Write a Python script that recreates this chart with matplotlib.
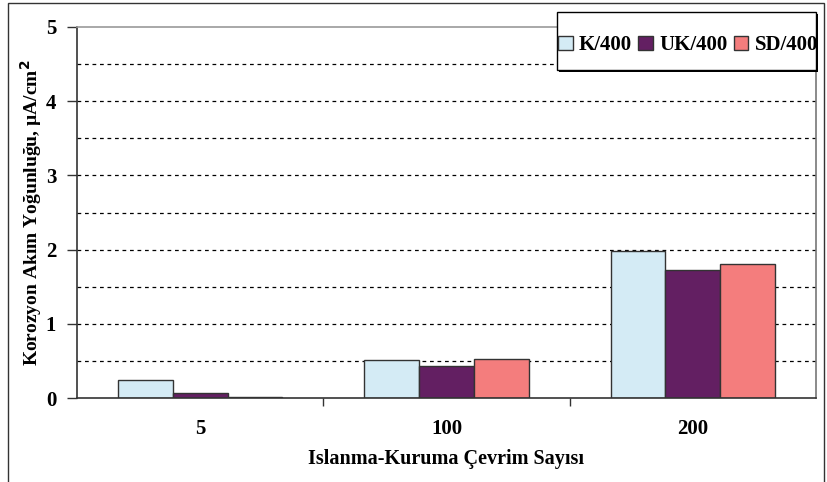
import matplotlib.pyplot as plt
import matplotlib.patches as mpatches
import numpy as np

# data
cycles = ['5', '100', '200']
series = ['K/400', 'UK/400', 'SD/400']
k400 = [0.24, 0.51, 1.98]
uk400 = [0.07, 0.43, 1.72]
sd400 = [0.02, 0.53, 1.81]
colors = ['#D4EBF5', '#631F62', '#F47D7D']

plt.rcParams['font.family'] = ['Liberation Serif', 'DejaVu Serif']
plt.rcParams['font.weight'] = 'bold'

fig = plt.figure(figsize=(8.27, 4.82), dpi=100)
ax = fig.add_axes([77 / 827, 1 - 398 / 482, (816 - 77) / 827, (398 - 27) / 482])

x = np.arange(len(cycles))
w = 0.222
for i, (vals, c, name) in enumerate(zip([k400, uk400, sd400], colors, series)):
    ax.bar(x + (i - 1) * w, vals, w, color=c, edgecolor='#333333', linewidth=1.0,
           label=name, zorder=3)

# dashed grid every 0.5
for yv in np.arange(0.5, 5, 0.5):
    ax.axhline(yv, color='black', linestyle=(0, (3, 3)), linewidth=0.9, zorder=1)

ax.set_xlim(-0.5, 2.5)
ax.set_ylim(0, 5)
ax.set_yticks(range(6))
ax.set_xticks(x)
ax.set_xticklabels(cycles, fontsize=15, fontweight='bold')
ax.set_xticks([0.5, 1.5], minor=True)
ax.tick_params(axis='x', which='major', length=0, pad=15)
ax.tick_params(axis='x', which='minor', length=6, width=1, color='#333333')
ax.tick_params(axis='y', length=7, width=1, color='#333333', labelsize=15, pad=8)
for lab in ax.get_yticklabels():
    lab.set_fontweight('bold')

ax.spines['left'].set_color('#333333')
ax.spines['bottom'].set_color('#333333')
ax.spines['top'].set_color('#999999')
ax.spines['right'].set_color('#777777')
for s in ax.spines.values():
    s.set_linewidth(1.2)
    s.set_zorder(4)

ax.set_xlabel('Islanma-Kuruma Çevrim Sayısı', fontsize=14.5, fontweight='bold', labelpad=7)
ax.set_ylabel('Korozyon Akım Yoğunluğu, µA/cm$^\\mathbf{2}$', fontsize=14,
              fontweight='bold', labelpad=1)

# legend box with shadow edge
lx0, lx1 = 557 / 827, 816 / 827
ly0, ly1 = 1 - 70 / 482, 1 - 12 / 482
fig.patches.append(mpatches.Rectangle((lx0 + 0.002, ly0 - 0.004), lx1 - lx0, ly1 - ly0,
                                      transform=fig.transFigure, facecolor='black',
                                      edgecolor='none', zorder=5))
fig.patches.append(mpatches.Rectangle((lx0, ly0), lx1 - lx0, ly1 - ly0,
                                      transform=fig.transFigure, facecolor='white',
                                      edgecolor='black', linewidth=1, zorder=6))
leg = fig.legend(loc='center', bbox_to_anchor=((lx0 + lx1) / 2 + 0.002, (ly0 + ly1) / 2 - 0.009),
                 ncol=3, frameon=False, handlelength=0.7,
                 handleheight=0.7, handletextpad=0.3, columnspacing=0.3,
                 prop={'weight': 'bold', 'size': 15})
leg.set_zorder(7)

# outer figure border
fig.patches.append(mpatches.Rectangle((8 / 827, -0.01), (824 - 8) / 827, 1 - 3 / 482 + 0.01,
                                      transform=fig.transFigure, facecolor='none',
                                      edgecolor='#333333', linewidth=1, zorder=0))

fig.savefig('out.png', dpi=100)
